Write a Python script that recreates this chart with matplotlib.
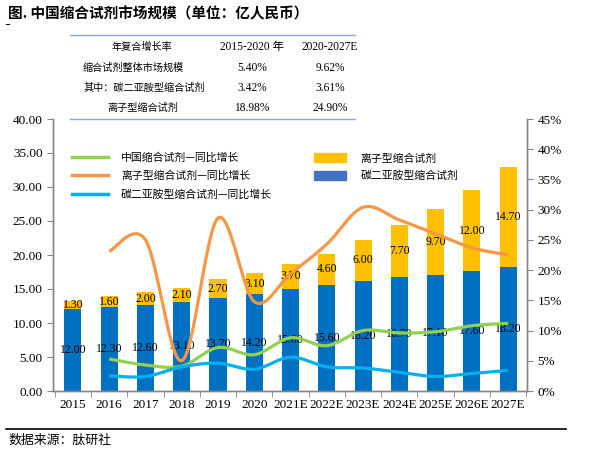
import matplotlib.pyplot as plt
import numpy as np
from matplotlib.patches import Patch
from matplotlib.lines import Line2D
from matplotlib.ticker import FuncFormatter, MultipleLocator

plt.rcParams['font.family'] = ['Liberation Serif', 'Noto Sans CJK SC']

years = ['2015', '2016', '2017', '2018', '2019', '2020', '2021E',
         '2022E', '2023E', '2024E', '2025E', '2026E', '2027E']
carbo = [12.0, 12.3, 12.6, 13.1, 13.7, 14.2, 15.0, 15.6, 16.2, 16.7, 17.1, 17.6, 18.2]
ionic = [1.3, 1.6, 2.0, 2.1, 2.7, 3.1, 3.7, 4.6, 6.0, 7.7, 9.7, 12.0, 14.7]

# yoy growth (%), from 2016
total_yoy = [5.3, 4.3, 4.1, 7.2, 6.0, 8.8, 7.5, 10.0, 9.6, 9.8, 10.8, 11.2]
ionic_yoy = [23.1, 25.0, 5.0, 28.6, 14.8, 19.4, 24.3, 30.4, 28.3, 26.0, 23.7, 22.5]
carbo_yoy = [2.5, 2.4, 4.0, 4.6, 3.6, 5.6, 4.0, 3.8, 3.1, 2.4, 2.9, 3.4]

tbl_head = ['年复合增长率', '2015-2020 年', '2020-2027E']
tbl_rows = [['缩合试剂整体市场规模', '5.40%', '9.62%'],
            ['其中：碳二亚胺型缩合试剂', '3.42%', '3.61%'],
            ['离子型缩合试剂', '18.98%', '24.90%']]

BLUE = '#0070C0'
YEL = '#FFC000'
GREEN = '#92D050'
ORANGE = '#F79646'
CYAN = '#00B0F0'
GRAY = '#868686'


def smooth(x, y, n=30):
    # excel-like smoothed line (bezier, tension 1/6)
    x = np.asarray(x, float)
    y = np.asarray(y, float)
    P = np.column_stack([x, y])
    out = []
    for i in range(len(P) - 1):
        p0 = P[i - 1] if i > 0 else P[i]
        p1 = P[i]
        p2 = P[i + 1]
        p3 = P[i + 2] if i + 2 < len(P) else P[i + 1]
        c1 = p1 + (p2 - p0) / 6
        c2 = p2 - (p3 - p1) / 6
        t = np.linspace(0, 1, n)[:, None]
        seg = (1 - t) ** 3 * p1 + 3 * (1 - t) ** 2 * t * c1 + 3 * (1 - t) * t ** 2 * c2 + t ** 3 * p2
        out.append(seg if i == 0 else seg[1:])
    out = np.vstack(out)
    return out[:, 0], out[:, 1]


fig = plt.figure(figsize=(6.03, 4.55), dpi=100)
ax = fig.add_axes([53 / 603, 1 - 391 / 455, (527 - 53) / 603, (391 - 119) / 455])
ax2 = ax.twinx()

x = np.arange(len(years))
w = 0.47
ax.bar(x, carbo, w, color=BLUE, zorder=2)
ax.bar(x, ionic, w, bottom=carbo, color=YEL, zorder=2)
for i in range(len(x)):
    ax.text(x[i], carbo[i] / 2, '%.2f' % carbo[i], ha='center', va='center', fontsize=8.5, zorder=3)
    ax.text(x[i], carbo[i] + ionic[i] / 2, '%.2f' % ionic[i], ha='center', va='center', fontsize=8.5, zorder=3)

ax.set_ylim(0, 40)
ax.set_xlim(-0.55, 12.52)
ax.yaxis.set_major_locator(MultipleLocator(5))
ax.yaxis.set_major_formatter(FuncFormatter(lambda v, p: '%.2f' % v))
ax.set_xticks(x)
ax.set_xticklabels(years)
ax.set_xticks(np.arange(-0.5, 12.6, 1), minor=True)
ax.tick_params(axis='x', which='major', length=0, labelsize=9.5, pad=6)
ax.tick_params(axis='x', which='minor', length=4, color=GRAY)
ax.tick_params(axis='y', length=4, color=GRAY, labelsize=9.5)

xl = x[1:]
for vals, c in [(total_yoy, GREEN), (ionic_yoy, ORANGE), (carbo_yoy, CYAN)]:
    sx, sy = smooth(xl, vals)
    ax2.plot(sx, sy, color=c, lw=2.3, solid_capstyle='butt')
ax2.set_ylim(0, 45)
ax2.yaxis.set_major_locator(MultipleLocator(5))
ax2.yaxis.set_major_formatter(FuncFormatter(lambda v, p: '%d%%' % round(v)))
ax2.tick_params(axis='y', length=4, color=GRAY, labelsize=9.5)

for a in (ax, ax2):
    a.spines['top'].set_visible(False)
    for s in ('left', 'right', 'bottom'):
        a.spines[s].set_color(GRAY)
        a.spines[s].set_linewidth(1.0)

cjk = ['Noto Sans CJK SC', 'Liberation Serif']
ser = ['Liberation Serif', 'Noto Sans CJK SC']
h1 = [Line2D([], [], color=GREEN, lw=2.5),
      Line2D([], [], color=ORANGE, lw=2.5),
      Line2D([], [], color=CYAN, lw=2.5)]
leg1 = ax2.legend(h1, ['中国缩合试剂—同比增长', '离子型缩合试剂—同比增长', '碳二亚胺型缩合试剂—同比增长'],
                  loc='upper left', bbox_to_anchor=(0.02, 0.915), frameon=False,
                  prop={'family': cjk, 'size': 7.8}, handlelength=3.3, labelspacing=0.75,
                  handletextpad=1.2)
ax2.add_artist(leg1)
h2 = [Patch(color=YEL), Patch(color='#4472C4')]
ax2.legend(h2, ['离子型缩合试剂', '碳二亚胺型缩合试剂'],
           loc='upper left', bbox_to_anchor=(0.53, 0.91), frameon=False,
           prop={'family': cjk, 'size': 7.8}, handlelength=3.0, handleheight=0.9,
           labelspacing=0.6, handletextpad=1.3)

# title / table / source
fig.text(8 / 603, 1 - 13 / 455, '图. 中国缩合试剂市场规模（单位：亿人民币）', fontsize=10.5,
         fontweight='bold', family=cjk, ha='left', va='center')
fig.add_artist(Line2D([6 / 603, 9 / 603], [1 - 24 / 455, 1 - 24 / 455], color='black', lw=0.8))

LBLUE = '#8EA9DB'
fig.add_artist(Line2D([70 / 603, 355 / 603], [1 - 35 / 455] * 2, color=LBLUE, lw=1.0))
fig.add_artist(Line2D([70 / 603, 355 / 603], [1 - 119 / 455] * 2, color=LBLUE, lw=1.0))
row_y = [47, 68, 88, 108]
col_x = [142, 252, 330]
for j, t in enumerate(tbl_head):
    fig.text(col_x[j] / 603, 1 - row_y[0] / 455, t, fontsize=7.3 if j == 0 else 8.3,
             family=cjk if j == 0 else ser, ha='center', va='center')
for i, r in enumerate(tbl_rows):
    yy = 1 - row_y[i + 1] / 455
    if i < 2:
        fig.text(83 / 603, yy, r[0], fontsize=7.3, family=cjk, ha='left', va='center')
    else:
        fig.text(143 / 603, yy, r[0], fontsize=7.3, family=cjk, ha='center', va='center')
    fig.text(col_x[1] / 603, yy, r[1], fontsize=8.3, family=ser, ha='center', va='center')
    fig.text(col_x[2] / 603, yy, r[2], fontsize=8.3, family=ser, ha='center', va='center')

fig.add_artist(Line2D([6 / 603, 566 / 603], [1 - 429 / 455] * 2, color='black', lw=1.2))
fig.text(8 / 603, 1 - 440 / 455, '数据来源：肽研社', fontsize=9.3, family=cjk, ha='left', va='center')

fig.savefig('out.png', dpi=100)
